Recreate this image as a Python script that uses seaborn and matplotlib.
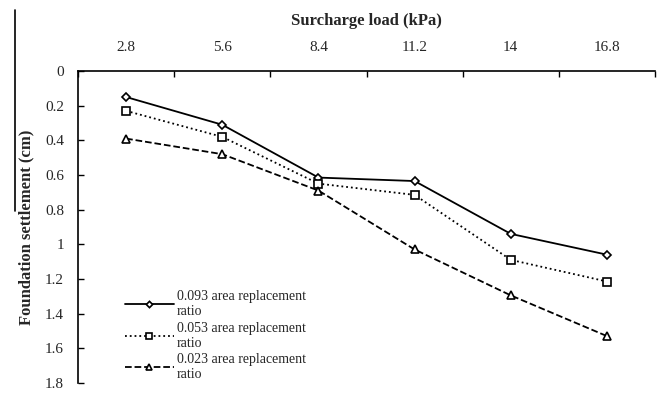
import matplotlib
matplotlib.use("Agg")
import matplotlib.pyplot as plt
from matplotlib.lines import Line2D
import pandas as pd
import seaborn as sns

loads = ["2.8", "5.6", "8.4", "11.2", "14", "16.8"]
ratio_093 = [0.15, 0.31, 0.615, 0.635, 0.94, 1.06]
ratio_053 = [0.23, 0.38, 0.65, 0.715, 1.09, 1.215]
ratio_023 = [0.39, 0.48, 0.69, 1.03, 1.295, 1.53]
labels = ["0.093 area replacement\nratio", "0.053 area replacement\nratio",
          "0.023 area replacement\nratio"]

sns.set_theme(style="white")
plt.rcParams["font.family"] = ["Liberation Serif", "DejaVu Serif"]

df = pd.DataFrame({"load": loads * 3,
                   "settlement": ratio_093 + ratio_053 + ratio_023,
                   "series": [labels[0]] * 6 + [labels[1]] * 6 + [labels[2]] * 6})

fig = plt.figure(figsize=(6.67, 4.13), dpi=100)
ax = fig.add_axes([0.117, 0.073, 0.865, 0.755])

styles = [("-", "D", 4), (":", "s", 5.5), ("--", "^", 5.5)]
for lab, (ls, mk, ms) in zip(labels, styles):
    d = df[df["series"] == lab]
    sns.lineplot(data=d, x="load", y="settlement", ax=ax, color="black",
                 linestyle=ls, marker=mk, markersize=ms, markerfacecolor="white",
                 markeredgecolor="black", markeredgewidth=1.2, linewidth=1.3,
                 label=lab, sort=False)

ax.set_ylim(1.8, 0)
ax.set_xlim(-0.5, 5.5)
ax.set_yticks([0, 0.2, 0.4, 0.6, 0.8, 1, 1.2, 1.4, 1.6, 1.8])
ax.set_yticklabels(["0", "0.2", "0.4", "0.6", "0.8", "1", "1.2", "1.4", "1.6", "1.8"])
ax.xaxis.tick_top()
ax.xaxis.set_label_position("top")
ax.set_xticks(range(6))
ax.set_xticklabels(loads)
ax.set_xticks([i - 0.5 for i in range(7)], minor=True)
ax.tick_params(axis="x", which="major", length=0, labelsize=11, pad=12)
ax.tick_params(axis="x", which="minor", length=4, direction="in", width=1, color="black")
ax.tick_params(axis="y", length=4, direction="in", width=1, labelsize=11, pad=10, color="black",
               left=True)
for s in ["right", "bottom"]:
    ax.spines[s].set_visible(False)
for s in ["left", "top"]:
    ax.spines[s].set_color("black")
    ax.spines[s].set_linewidth(1.2)

ax.set_xlabel("Surcharge load (kPa)", fontsize=12, fontweight="bold", labelpad=12)
ax.set_ylabel("Foundation settlement (cm)", fontsize=12, fontweight="bold", labelpad=8)

ax.legend(loc="lower left", bbox_to_anchor=(0.06, -0.035), frameon=False, fontsize=10,
          handlelength=3.5, handletextpad=0.2, labelspacing=0.25, markerscale=0.8)

fig.add_artist(Line2D([0.022, 0.022], [0.975, 0.49], color="black", linewidth=1.2))

fig.savefig("out.png", dpi=100)
